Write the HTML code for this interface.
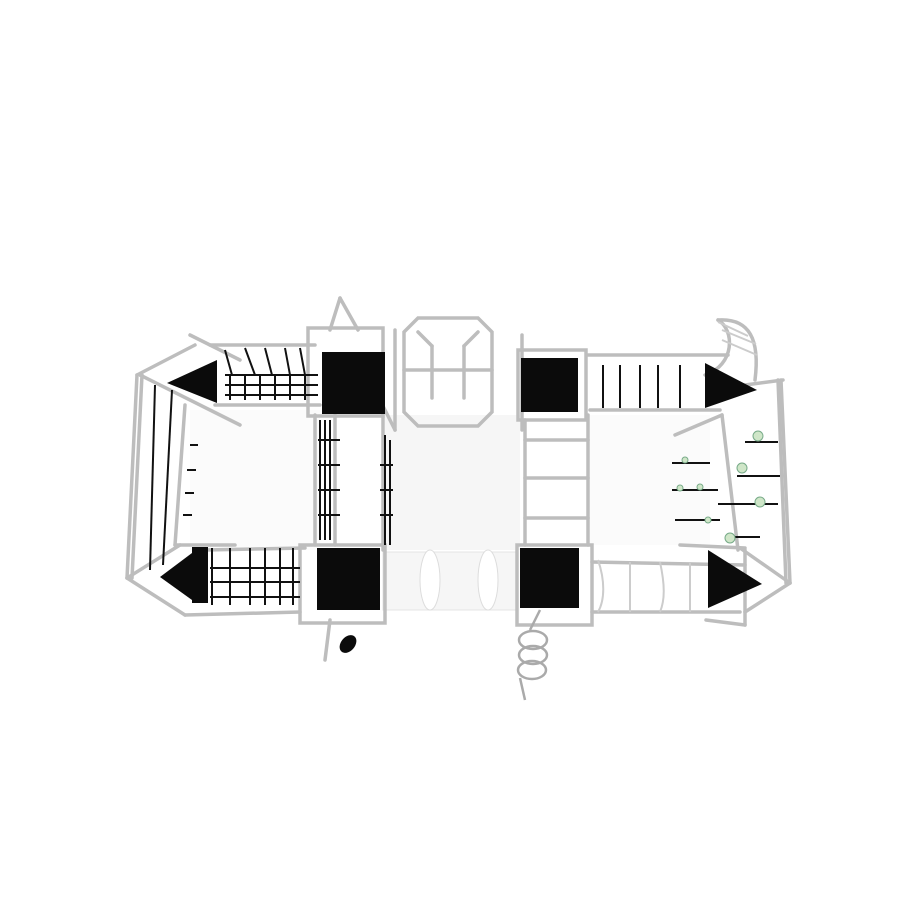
<!DOCTYPE html>
<html><head><style>html,body{margin:0;padding:0;background:#fff;width:900px;height:900px;overflow:hidden}</style></head>
<body>
<svg width="900" height="900" viewBox="0 0 900 900" xmlns="http://www.w3.org/2000/svg">
<rect width="900" height="900" fill="#fff"/>
<rect x="385" y="415" width="135" height="135" fill="#f6f6f6"/>
<rect x="190" y="410" width="130" height="140" fill="#fbfbfb"/>
<rect x="590" y="415" width="120" height="130" fill="#fbfbfb"/>
<rect x="383" y="552" width="135" height="58" fill="#f6f6f6" stroke="#e4e4e4"/>
<ellipse cx="430" cy="580" rx="10" ry="30" fill="#fff" stroke="#ddd"/>
<ellipse cx="488" cy="580" rx="10" ry="30" fill="#fff" stroke="#ddd"/>
<g fill="none" stroke="#bdbdbd" stroke-width="3.5" stroke-linecap="round">
<line x1="137" y1="375" x2="127" y2="578"/>
<line x1="142" y1="375" x2="132" y2="578"/>
<line x1="137" y1="375" x2="195" y2="345"/>
<line x1="190" y1="335" x2="240" y2="360"/>
<line x1="140" y1="375" x2="240" y2="425"/>
<line x1="185" y1="405" x2="175" y2="545"/>
<line x1="127" y1="578" x2="180" y2="545"/>
<line x1="127" y1="578" x2="185" y2="615"/>
<line x1="175" y1="545" x2="235" y2="545"/>
<line x1="185" y1="615" x2="300" y2="612"/>
<line x1="205" y1="550" x2="305" y2="548"/>
<line x1="210" y1="345" x2="315" y2="345"/>
<line x1="215" y1="405" x2="320" y2="405"/>
<rect x="308" y="328" width="75" height="88"/>
<line x1="380" y1="400" x2="395" y2="430"/>
<line x1="383" y1="415" x2="383" y2="550"/>
<line x1="315" y1="415" x2="315" y2="545"/>
<line x1="335" y1="415" x2="335" y2="545"/>
<line x1="395" y1="330" x2="395" y2="430"/>
<rect x="300" y="545" width="85" height="78"/>
<polygon points="418,318 478,318 492,332 492,412 478,426 418,426 404,412 404,332"/>
<line x1="404" y1="370" x2="492" y2="370"/>
<line x1="418" y1="332" x2="432" y2="346"/>
<line x1="432" y1="346" x2="432" y2="398"/>
<line x1="478" y1="332" x2="464" y2="346"/>
<line x1="464" y1="346" x2="464" y2="398"/>
<rect x="518" y="350" width="68" height="70"/>
<line x1="522" y1="335" x2="522" y2="430"/>
<line x1="525" y1="420" x2="525" y2="545"/>
<line x1="588" y1="415" x2="588" y2="545"/>
<line x1="525" y1="440" x2="588" y2="440"/>
<line x1="525" y1="478" x2="588" y2="478"/>
<line x1="525" y1="518" x2="588" y2="518"/>
<line x1="588" y1="355" x2="728" y2="355"/>
<line x1="590" y1="410" x2="720" y2="410"/>
<line x1="675" y1="435" x2="722" y2="415"/>
<rect x="517" y="545" width="75" height="80"/>
<line x1="592" y1="562" x2="745" y2="565"/>
<line x1="592" y1="612" x2="740" y2="612"/>
<line x1="722" y1="415" x2="738" y2="550"/>
<line x1="745" y1="385" x2="783" y2="380"/>
<line x1="781" y1="380" x2="790" y2="583"/>
<line x1="778" y1="380" x2="786" y2="583"/>
<line x1="680" y1="545" x2="745" y2="548"/>
<line x1="745" y1="550" x2="745" y2="625"/>
<line x1="706" y1="620" x2="745" y2="625"/>
<line x1="745" y1="612" x2="790" y2="583"/>
<line x1="740" y1="548" x2="790" y2="583"/>
<path d="M718 320 C750 318 760 340 755 380"/>
<path d="M718 320 C735 330 735 365 705 375"/>
<path d="M340 298 L330 330"/>
<path d="M340 298 L358 330"/>
<path d="M330 620 L325 660"/>
</g>
<g fill="none" stroke="#aaa" stroke-width="2.5">
<path d="M540 610 L530 630"/>
<ellipse cx="533" cy="640" rx="14" ry="9"/>
<ellipse cx="533" cy="655" rx="14" ry="9"/>
<ellipse cx="532" cy="670" rx="14" ry="9"/>
<path d="M520 678 L525 700"/>
</g>
<g fill="none" stroke="#ccc" stroke-width="2">
<path d="M598 560 C605 580 605 600 598 612 M630 562 L630 612 M660 562 C665 585 665 600 660 612 M690 563 L690 612"/>
<path d="M718 322 L748 336 M722 330 L756 344 M722 340 L757 355"/>
</g>
<g fill="#0b0b0b">
<rect x="322" y="352" width="63" height="62"/>
<rect x="521" y="358" width="57" height="54"/>
<rect x="317" y="548" width="63" height="62"/>
<rect x="520" y="548" width="59" height="60"/>
<polygon points="167,383 217,360 217,403"/>
<polygon points="160,577 192,553 192,600"/>
<rect x="192" y="547" width="16" height="56"/>
<polygon points="705,363 705,408 757,390"/>
<polygon points="708,550 708,608 762,584"/>
<ellipse cx="348" cy="644" rx="7" ry="10" transform="rotate(40 348 644)"/>
</g>
<g stroke="#111" stroke-width="2" fill="none">
<line x1="155" y1="385" x2="150" y2="570"/>
<line x1="172" y1="390" x2="163" y2="565"/>
<line x1="190" y1="445" x2="198" y2="445"/>
<line x1="187" y1="470" x2="196" y2="470"/>
<line x1="185" y1="493" x2="194" y2="493"/>
<line x1="183" y1="515" x2="192" y2="515"/>
<line x1="225" y1="375" x2="318" y2="375"/>
<line x1="225" y1="385" x2="318" y2="385"/>
<line x1="225" y1="395" x2="318" y2="395"/>
<path d="M230 375V400M245 375V400M260 375V400M275 375V400M290 375V400M305 375V400"/>
<path d="M225 350L232 375M245 348L255 375M265 348L272 375M285 348L290 375M300 348L305 375"/>
<path d="M320 420V540M325 420V540M330 420V540M318 440H340M318 465H340M318 490H340M318 515H340"/>
<path d="M385 435V545M390 440V545M380 465H393M380 490H393M380 515H393"/>
<path d="M212 548V605M230 548V605M250 548V605M265 548V605M280 548V605M293 548V605M210 568H300M210 582H300M210 597H300"/>
<path d="M603 365V408M620 365V408M640 365V408M658 365V408M680 365V408"/>
<path d="M672 463H710M672 490H718M675 520H720M737 476H780M718 504H778M745 442H778M730 537H760"/>
</g>
<g fill="#cfe6c8" stroke="#7a8" stroke-width="1">
<circle cx="758" cy="436" r="5"/><circle cx="742" cy="468" r="5"/><circle cx="760" cy="502" r="5"/><circle cx="730" cy="538" r="5"/>
<circle cx="685" cy="460" r="3"/><circle cx="680" cy="488" r="3"/><circle cx="700" cy="487" r="3"/><circle cx="708" cy="520" r="3"/>
</g>
</svg>
</body></html>
